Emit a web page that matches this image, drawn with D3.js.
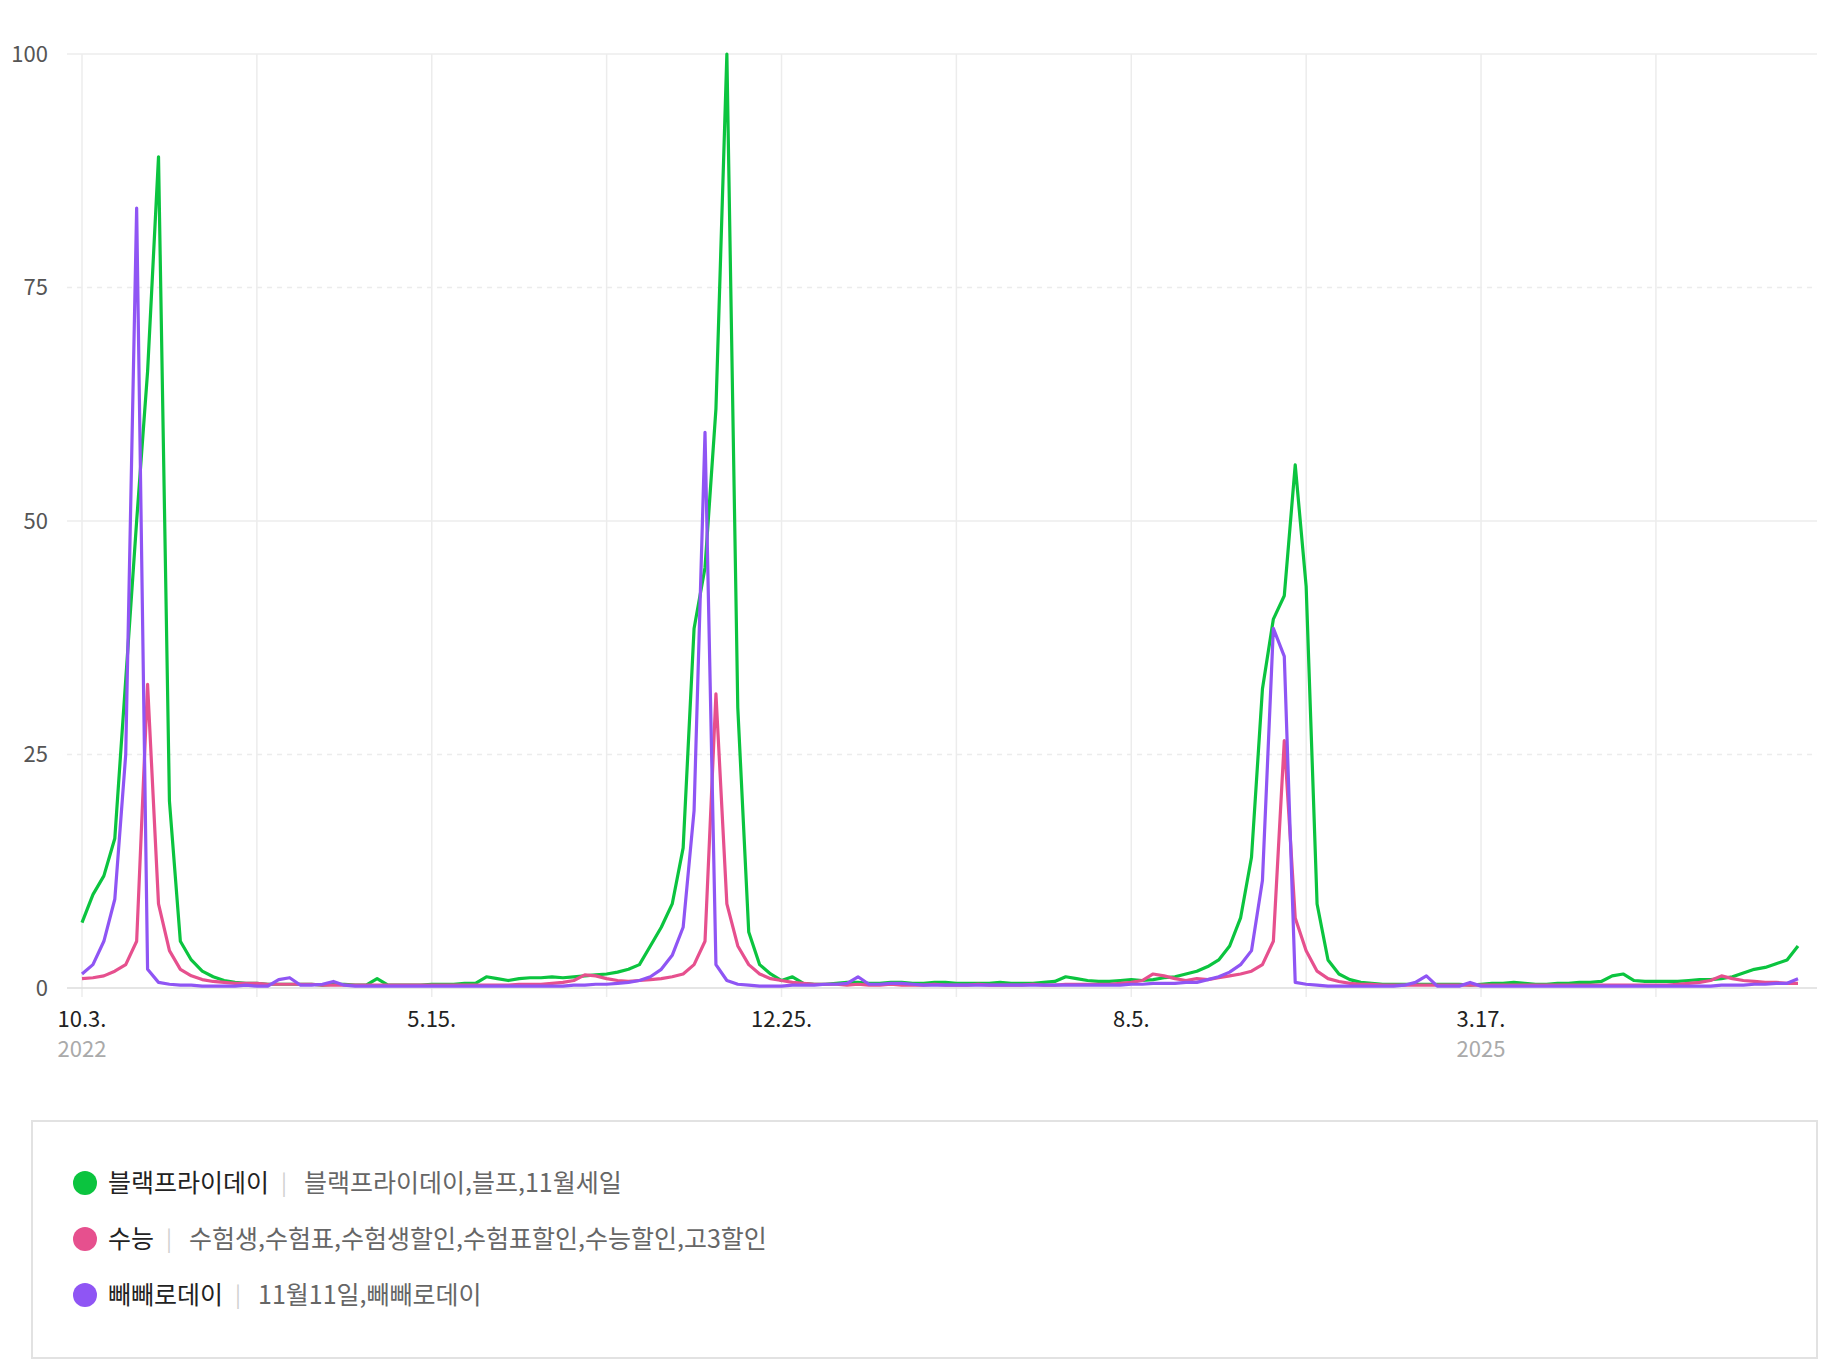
<!DOCTYPE html>
<html lang="ko">
<head>
  <meta charset="UTF-8">
  <title>검색어 트렌드</title>
  <script src="https://d3js.org/d3.v7.min.js"></script>
  <style>
    body { margin: 0; background: #fff; font-family: "Noto Sans CJK KR", "Noto Sans", sans-serif; }
    svg { display: block; }
  </style>
</head>
<body>
  <svg width="1840" height="1370"></svg>

  <script>
    // weekly values, first week 2022-10-03
    const startDate = new Date(2022, 9, 3);

    const blackFriday = [
      7, 10, 12, 16, 33, 50, 66, 89, 20, 5,
      3, 1.8, 1.2, 0.8, 0.6, 0.5, 0.5, 0.4, 0.4, 0.4,
      0.4, 0.4, 0.3, 0.4, 0.4, 0.3, 0.3, 1.0, 0.3, 0.3,
      0.3, 0.3, 0.4, 0.4, 0.4, 0.5, 0.5, 1.2, 1.0, 0.8,
      1.0, 1.1, 1.1, 1.2, 1.1, 1.2, 1.3, 1.4, 1.5, 1.7,
      2.0, 2.5, 4.5, 6.5, 9, 15, 38.5, 45, 62, 100,
      30, 6, 2.5, 1.5, 0.8, 1.2, 0.5, 0.4, 0.4, 0.5,
      0.6, 0.6, 0.5, 0.5, 0.6, 0.6, 0.5, 0.5, 0.6, 0.6,
      0.5, 0.5, 0.5, 0.5, 0.6, 0.5, 0.5, 0.5, 0.6, 0.7,
      1.2, 1.0, 0.8, 0.7, 0.7, 0.8, 0.9, 0.8, 0.9, 1.1,
      1.2, 1.5, 1.8, 2.3, 3, 4.5, 7.5, 14, 32, 39.5,
      42, 56, 43, 9, 3, 1.5, 0.9, 0.6, 0.5, 0.4,
      0.4, 0.4, 0.4, 0.4, 0.4, 0.4, 0.4, 0.3, 0.4, 0.5,
      0.5, 0.6, 0.5, 0.4, 0.4, 0.5, 0.5, 0.6, 0.6, 0.7,
      1.3, 1.5, 0.8, 0.7, 0.7, 0.7, 0.7, 0.8, 0.9, 0.9,
      1.0, 1.2, 1.6, 2, 2.2, 2.6, 3, 4.5
    ];
    const suneung = [
      1.0, 1.1, 1.3, 1.8, 2.5, 5, 32.5, 9, 4, 2,
      1.3, 0.9, 0.7, 0.6, 0.5, 0.5, 0.5, 0.4, 0.4, 0.4,
      0.4, 0.4, 0.3, 0.3, 0.3, 0.3, 0.3, 0.3, 0.3, 0.3,
      0.3, 0.3, 0.3, 0.3, 0.3, 0.3, 0.3, 0.3, 0.3, 0.3,
      0.4, 0.4, 0.4, 0.5, 0.6, 0.8, 1.4, 1.3, 1.0, 0.8,
      0.7, 0.8, 0.9, 1.0, 1.2, 1.5, 2.5, 5, 31.5, 9,
      4.5, 2.5, 1.5, 1.0, 0.8, 0.6, 0.5, 0.4, 0.4, 0.4,
      0.3, 0.4, 0.3, 0.3, 0.4, 0.3, 0.3, 0.3, 0.4, 0.3,
      0.3, 0.3, 0.4, 0.3, 0.3, 0.3, 0.3, 0.4, 0.3, 0.3,
      0.4, 0.4, 0.4, 0.4, 0.4, 0.5, 0.6, 0.8, 1.5, 1.3,
      1.0, 0.8, 1.0, 0.9, 1.1, 1.3, 1.5, 1.8, 2.5, 5,
      26.5, 7.5, 4, 1.8, 1.0, 0.7, 0.5, 0.4, 0.4, 0.3,
      0.3, 0.3, 0.3, 0.3, 0.3, 0.3, 0.3, 0.3, 0.3, 0.3,
      0.3, 0.3, 0.3, 0.3, 0.3, 0.3, 0.3, 0.3, 0.3, 0.3,
      0.3, 0.3, 0.3, 0.3, 0.3, 0.3, 0.4, 0.5, 0.6, 0.8,
      1.3, 1.0, 0.8, 0.7, 0.6, 0.6, 0.5, 0.5
    ];
    const pepero = [
      1.5, 2.5, 5, 9.5, 25, 83.5, 2, 0.6, 0.4, 0.3,
      0.3, 0.2, 0.2, 0.2, 0.2, 0.3, 0.2, 0.2, 0.9, 1.1,
      0.3, 0.3, 0.4, 0.7, 0.3, 0.2, 0.2, 0.2, 0.2, 0.2,
      0.2, 0.2, 0.2, 0.2, 0.2, 0.2, 0.2, 0.2, 0.2, 0.2,
      0.2, 0.2, 0.2, 0.2, 0.2, 0.3, 0.3, 0.4, 0.4, 0.5,
      0.6, 0.8, 1.2, 2, 3.5, 6.5, 19, 59.5, 2.5, 0.8,
      0.4, 0.3, 0.2, 0.2, 0.2, 0.3, 0.3, 0.3, 0.4, 0.4,
      0.5, 1.2, 0.4, 0.4, 0.5, 0.5, 0.4, 0.3, 0.3, 0.3,
      0.3, 0.3, 0.3, 0.3, 0.3, 0.3, 0.3, 0.3, 0.3, 0.3,
      0.3, 0.3, 0.3, 0.3, 0.3, 0.3, 0.4, 0.4, 0.5, 0.5,
      0.5, 0.6, 0.6, 0.9, 1.2, 1.7, 2.5, 4, 11.5, 38.5,
      35.5, 0.6, 0.4, 0.3, 0.2, 0.2, 0.2, 0.2, 0.2, 0.2,
      0.2, 0.3, 0.6, 1.3, 0.2, 0.2, 0.2, 0.6, 0.2, 0.2,
      0.2, 0.2, 0.2, 0.2, 0.2, 0.2, 0.2, 0.2, 0.2, 0.2,
      0.2, 0.2, 0.2, 0.2, 0.2, 0.2, 0.2, 0.2, 0.2, 0.2,
      0.3, 0.3, 0.3, 0.4, 0.4, 0.5, 0.5, 1.0
    ];

    const yTicks = [0, 25, 50, 75, 100];
    const gridDates = ["2022-10-03", "2023-01-23", "2023-05-15", "2023-09-04", "2023-12-25",
                       "2024-04-15", "2024-08-05", "2024-11-25", "2025-03-17", "2025-07-07"];
    const labelDates = ["2022-10-03", "2023-05-15", "2023-12-25", "2024-08-05", "2025-03-17"];
    const labelText = ["10.3.", "5.15.", "12.25.", "8.5.", "3.17."];
    const yearText = ["2022", "", "", "", "2025"];

    const series = [
      { name: "블랙프라이데이", desc: "블랙프라이데이,블프,11월세일", color: "#0bc43f", values: blackFriday },
      { name: "수능", desc: "수험생,수험표,수험생할인,수험표할인,수능할인,고3할인", color: "#e6508e", values: suneung },
      { name: "빼빼로데이", desc: "11월11일,빼빼로데이", color: "#8f55f4", values: pepero }
    ];

    const svg = d3.select("svg");
    const parse = d3.timeParse("%Y-%m-%d");
    const lastDate = d3.timeWeek.offset(startDate, blackFriday.length - 1);

    const x = d3.scaleTime().domain([startDate, lastDate]).range([82, 1798]);
    const y = d3.scaleLinear().domain([0, 100]).range([988, 54]);

    // gridlines
    svg.append("g").selectAll("line").data(gridDates).join("line")
      .attr("x1", d => x(parse(d))).attr("x2", d => x(parse(d)))
      .attr("y1", y(100)).attr("y2", y(0) + 9)
      .attr("stroke", "#ececec").attr("stroke-width", 1.5);

    svg.append("g").selectAll("line").data(yTicks).join("line")
      .attr("x1", 67).attr("x2", 1817)
      .attr("y1", d => y(d)).attr("y2", d => y(d))
      .attr("stroke", d => d === 0 ? "#dcdcdc" : "#ececec")
      .attr("stroke-width", 1.5)
      .attr("stroke-dasharray", d => (d === 25 || d === 75) ? "5,5" : null);

    svg.append("g").selectAll("text").data(yTicks).join("text")
      .attr("x", 48).attr("y", d => y(d)).attr("dy", "0.35em")
      .attr("text-anchor", "end")
      .attr("font-size", 22).attr("fill", "#555")
      .text(d => d);

    const xl = svg.append("g");
    xl.selectAll("text.d").data(labelDates).join("text").attr("class", "d")
      .attr("x", (d, i) => x(parse(d))).attr("y", 1027)
      .attr("text-anchor", "middle").attr("font-size", 22).attr("fill", "#222")
      .text((d, i) => labelText[i]);
    xl.selectAll("text.yr").data(labelDates).join("text").attr("class", "yr")
      .attr("x", d => x(parse(d))).attr("y", 1057)
      .attr("text-anchor", "middle").attr("font-size", 22).attr("fill", "#aaa")
      .text((d, i) => yearText[i]);

    const line = d3.line()
      .x((d, i) => x(d3.timeWeek.offset(startDate, i)))
      .y(d => y(d));

    svg.append("g").selectAll("path").data(series).join("path")
      .attr("fill", "none")
      .attr("stroke", d => d.color)
      .attr("stroke-width", 3.2)
      .attr("stroke-linejoin", "round")
      .attr("d", d => line(d.values));

    // legend box
    svg.append("rect")
      .attr("x", 32).attr("y", 1121).attr("width", 1785).attr("height", 237)
      .attr("fill", "#fff").attr("stroke", "#e2e2e2").attr("stroke-width", 2);

    const rows = svg.append("g").selectAll("g").data(series).join("g")
      .attr("transform", (d, i) => `translate(0, ${1183 + i * 56})`);
    rows.append("circle").attr("cx", 85).attr("cy", 0).attr("r", 12).attr("fill", d => d.color);
    rows.each(function(d) {
      const g = d3.select(this);
      const t = g.append("text").attr("x", 108).attr("y", 0).attr("dy", "0.35em")
        .attr("font-size", 25).attr("fill", "#222").text(d.name);
      const w = t.node().getComputedTextLength();
      g.append("text").attr("x", 108 + w + 12).attr("y", 0).attr("dy", "0.35em")
        .attr("font-size", 22).attr("fill", "#d0d0d0").text("|");
      g.append("text").attr("x", 108 + w + 35).attr("y", 0).attr("dy", "0.35em")
        .attr("font-size", 25).attr("fill", "#666").text(d.desc);
    });
  </script>
</body>
</html>
